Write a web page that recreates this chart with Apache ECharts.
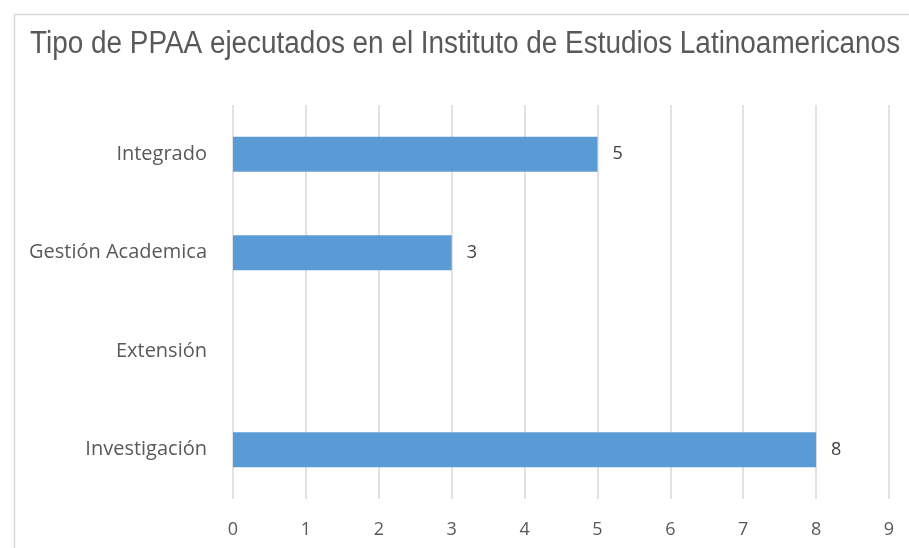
<!DOCTYPE html>
<html>
<head>
<meta charset="utf-8">
<script src="https://cdn.jsdelivr.net/npm/echarts@6/dist/echarts.min.js"></script>
<style>html,body{margin:0;padding:0;background:#fff;}#c{width:909px;height:548px;}</style>
</head>
<body>
<div id="c"></div>
<script>
const titleText = 'Tipo de PPAA ejecutados en el Instituto de Estudios Latinoamericanos';
const categories = ['Integrado', 'Gestión Academica', 'Extensión', 'Investigación'];
const values = [5, 3, 0, 8];
const xTicks = [0, 1, 2, 3, 4, 5, 6, 7, 8, 9];

const labelFont = '"Open Sans", Lato, sans-serif';
const chart = echarts.init(document.getElementById('c'), null, {renderer: 'canvas'});
chart.setOption({
  backgroundColor: '#fff',
  animation: false,
  graphic: [{
    type: 'rect', left: 12, top: 12, shape: {width: 920, height: 560},
    style: {fill: 'none', stroke: '#d9d9d9', lineWidth: 1.5}, silent: true
  }, {
    type: 'text', x: 30, y: 29, scaleX: 0.9, silent: true,
    style: {text: titleText, fill: '#595959', fontFamily: '"Liberation Sans", Arial, sans-serif', fontSize: 31, fontWeight: 'normal', textVerticalAlign: 'top'}
  }],
  grid: {left: 233, right: 20, top: 105, bottom: 49, containLabel: false},
  xAxis: {
    type: 'value', min: xTicks[0], max: xTicks[xTicks.length - 1], interval: 1,
    axisLine: {show: false}, axisTick: {show: false},
    splitLine: {show: true, lineStyle: {color: '#d9d9d9', width: 1.5}},
    axisLabel: {margin: 22, color: '#595959', fontFamily: labelFont, fontSize: 18}
  },
  yAxis: {
    type: 'category', data: categories, inverse: true,
    axisLine: {show: false}, axisTick: {show: false},
    axisLabel: {margin: 26, color: '#595959', fontFamily: labelFont, fontSize: 20}
  },
  series: [{
    type: 'bar', data: values, barWidth: 35,
    itemStyle: {color: '#5b9bd5', borderWidth: 0},
    label: {
      show: true, position: 'right', distance: 15, color: '#404040',
      fontFamily: labelFont, fontSize: 18,
      formatter: p => p.value === 0 ? '' : String(p.value)
    }
  }]
});
</script>
</body>
</html>
